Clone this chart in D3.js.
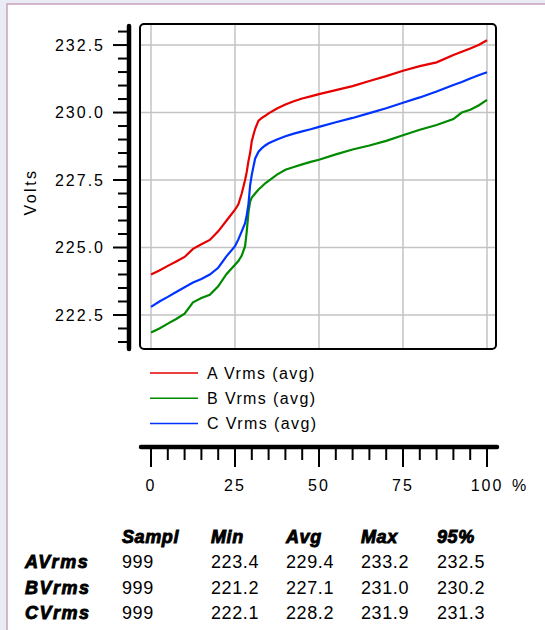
<!DOCTYPE html>
<html>
<head>
<meta charset="utf-8">
<script src="https://cdn.jsdelivr.net/npm/d3@7"></script>
<style>
  body { margin: 0; background: #fff; }
  svg { display: block; font-family: "Liberation Sans", Arial, sans-serif; }
</style>
</head>
<body>
<svg id="vchart" width="545" height="630"></svg>
<script>
// percentile points (x) and sorted voltage readings per phase
var pct = [0, 2.5, 5, 7.5, 10, 12.5, 15, 17.5, 20, 22.5, 25, 26, 27, 28, 28.5, 29, 29.5, 30, 31, 32, 33, 34, 35,
           37.5, 40, 42.5, 45, 47.5, 50, 55, 60, 65, 70, 75, 80, 85, 90, 92.5, 95, 97.5, 100];
var voltsA = [224.0, 224.15, 224.32, 224.48, 224.65, 224.95, 225.12, 225.28, 225.6, 226.0, 226.4, 226.6, 227.0, 227.5,
              227.8, 228.2, 228.5, 228.95, 229.4, 229.7, 229.8, 229.88, 229.97, 230.15, 230.3, 230.42, 230.52, 230.6,
              230.68, 230.83, 230.98, 231.17, 231.35, 231.55, 231.72, 231.86, 232.13, 232.25, 232.37, 232.5, 232.68];
var voltsB = [221.85, 222.0, 222.18, 222.35, 222.55, 222.97, 223.13, 223.25, 223.56, 224.02, 224.36, 224.5, 224.7,
              225.05, 225.6, 226.3, 226.7, 226.85, 227.0, 227.15, 227.26, 227.38, 227.47, 227.7, 227.88, 227.98, 228.08,
              228.17, 228.25, 228.45, 228.63, 228.78, 228.95, 229.16, 229.36, 229.54, 229.76, 230.0, 230.1, 230.26, 230.47];
var voltsC = [222.8, 223.0, 223.17, 223.35, 223.53, 223.7, 223.83, 224.0, 224.25, 224.68, 225.05, 225.3, 225.6, 225.9,
              226.2, 226.6, 227.3, 227.7, 228.3, 228.55, 228.68, 228.78, 228.86, 229.0, 229.12, 229.22, 229.3, 229.38,
              229.47, 229.64, 229.8, 229.98, 230.16, 230.36, 230.56, 230.78, 231.02, 231.13, 231.26, 231.38, 231.49];

var seriesNames = ["A Vrms (avg)", "B Vrms (avg)", "C Vrms (avg)"];
var seriesColors = ["#e60000", "#008a00", "#0033ff"];

var yMajor = [222.5, 225.0, 227.5, 230.0, 232.5];
var xMajor = [0, 25, 50, 75, 100];

var tableCols = ["Sampl", "Min", "Avg", "Max", "95%"];
var tableRows = ["AVrms", "BVrms", "CVrms"];
var tableVals = [
    ["999", "223.4", "229.4", "233.2", "232.5"],
    ["999", "221.2", "227.1", "231.0", "230.2"],
    ["999", "222.1", "228.2", "231.9", "231.3"]
];

var svg = d3.select("#vchart");

// page frame
svg.append("rect").attr("x", 0).attr("y", 0).attr("width", 545).attr("height", 630).attr("fill", "#e9ebf5");
svg.append("rect").attr("x", 7).attr("y", 4).attr("width", 540).attr("height", 630)
    .attr("fill", "#fff").attr("stroke", "#c9a3bd").attr("stroke-width", 1.5);

var x = d3.scaleLinear().domain([0, 100]).range([151, 487]);
var y = d3.scaleLinear().domain([221.24, 233.28]).range([349, 24]);

var plot = { left: 140, top: 24, right: 496, bottom: 349 };

// grid
var grid = svg.append("g").attr("stroke", "#c3c3c3").attr("stroke-width", 1.5);
grid.selectAll(".gx").data(xMajor).enter().append("line")
    .attr("x1", function (d) { return x(d); }).attr("x2", function (d) { return x(d); })
    .attr("y1", plot.top).attr("y2", plot.bottom);
grid.selectAll(".gy").data(yMajor).enter().append("line")
    .attr("y1", function (d) { return y(d); }).attr("y2", function (d) { return y(d); })
    .attr("x1", plot.left).attr("x2", plot.right);

// lines
var line = d3.line()
    .x(function (d) { return x(d[0]); })
    .y(function (d) { return y(d[1]); });

[voltsA, voltsB, voltsC].forEach(function (vals, i) {
    svg.append("path")
        .datum(d3.zip(pct, vals))
        .attr("fill", "none")
        .attr("stroke", seriesColors[i])
        .attr("stroke-width", 2.2)
        .attr("d", line);
});

// plot frame
svg.append("rect")
    .attr("x", plot.left).attr("y", plot.top)
    .attr("width", plot.right - plot.left).attr("height", plot.bottom - plot.top)
    .attr("rx", 4).attr("fill", "none").attr("stroke", "#000").attr("stroke-width", 2);

// y axis
var yMinor = d3.range(221.5, 233.01, 0.5);
var yAxis = svg.append("g").attr("transform", "translate(129,0)");
yAxis.append("line").attr("y1", 26).attr("y2", 349)
    .attr("stroke", "#000").attr("stroke-width", 4.5).attr("stroke-linecap", "round");
yAxis.selectAll(".ty").data(yMinor).enter().append("line")
    .attr("y1", function (d) { return y(d); }).attr("y2", function (d) { return y(d); })
    .attr("x1", function (d) { return yMajor.indexOf(d) >= 0 ? -16 : -11; }).attr("x2", 0)
    .attr("stroke", "#000").attr("stroke-width", 2);
yAxis.selectAll(".ly").data(yMajor).enter().append("text")
    .attr("x", -24).attr("y", function (d) { return y(d); })
    .attr("dy", "0.36em")
    .attr("text-anchor", "end")
    .attr("font-size", 16).attr("letter-spacing", 2)
    .text(d3.format(".1f"));

svg.append("text")
    .attr("transform", "translate(36,192) rotate(-90)")
    .attr("text-anchor", "middle")
    .attr("font-size", 16).attr("letter-spacing", 2.5)
    .text("Volts");

// legend
var legend = svg.append("g");
seriesNames.forEach(function (name, i) {
    var ly = 373 + i * 25.2;
    legend.append("line").attr("x1", 150).attr("x2", 198).attr("y1", ly).attr("y2", ly)
        .attr("stroke", seriesColors[i]).attr("stroke-width", 1.5);
    legend.append("text").attr("x", 207).attr("y", ly + 6)
        .attr("font-size", 16).attr("letter-spacing", 1.4)
        .text(name);
});

// x axis
var xMinor = d3.range(0, 100.01, 5);
var xAxis = svg.append("g").attr("transform", "translate(0,447)");
xAxis.append("line").attr("x1", 141).attr("x2", 497)
    .attr("stroke", "#000").attr("stroke-width", 4.5).attr("stroke-linecap", "round");
xAxis.selectAll(".tx").data(xMinor).enter().append("line")
    .attr("x1", function (d) { return x(d); }).attr("x2", function (d) { return x(d); })
    .attr("y1", 0).attr("y2", function (d) { return xMajor.indexOf(d) >= 0 ? 20 : 13; })
    .attr("stroke", "#000").attr("stroke-width", 2);
xAxis.selectAll(".lx").data(xMajor).enter().append("text")
    .attr("x", function (d) { return x(d); }).attr("y", 44)
    .attr("text-anchor", "middle")
    .attr("font-size", 16).attr("letter-spacing", 2)
    .text(function (d) { return d; });
xAxis.append("text").attr("x", 512).attr("y", 44).attr("font-size", 16).text("%");

// stats table
var colX = [122, 211, 286, 361, 437];
var rowY = [568, 594, 619];
var table = svg.append("g").attr("font-size", 18);
table.selectAll(".hd").data(tableCols).enter().append("text")
    .attr("x", function (d, i) { return colX[i]; }).attr("y", 543)
    .attr("font-weight", "bold").attr("font-style", "italic")
    .attr("stroke", "#000").attr("stroke-width", 0.9).attr("letter-spacing", 0.6)
    .text(function (d) { return d; });
table.selectAll(".rl").data(tableRows).enter().append("text")
    .attr("x", 25).attr("y", function (d, i) { return rowY[i]; })
    .attr("font-weight", "bold").attr("font-style", "italic")
    .attr("stroke", "#000").attr("stroke-width", 0.9).attr("letter-spacing", 1.6)
    .text(function (d) { return d; });
tableVals.forEach(function (row, r) {
    table.selectAll(".v" + r).data(row).enter().append("text")
        .attr("x", function (d, i) { return colX[i]; }).attr("y", rowY[r])
        .attr("letter-spacing", 0.6)
        .text(function (d) { return d; });
});
</script>
</body>
</html>
